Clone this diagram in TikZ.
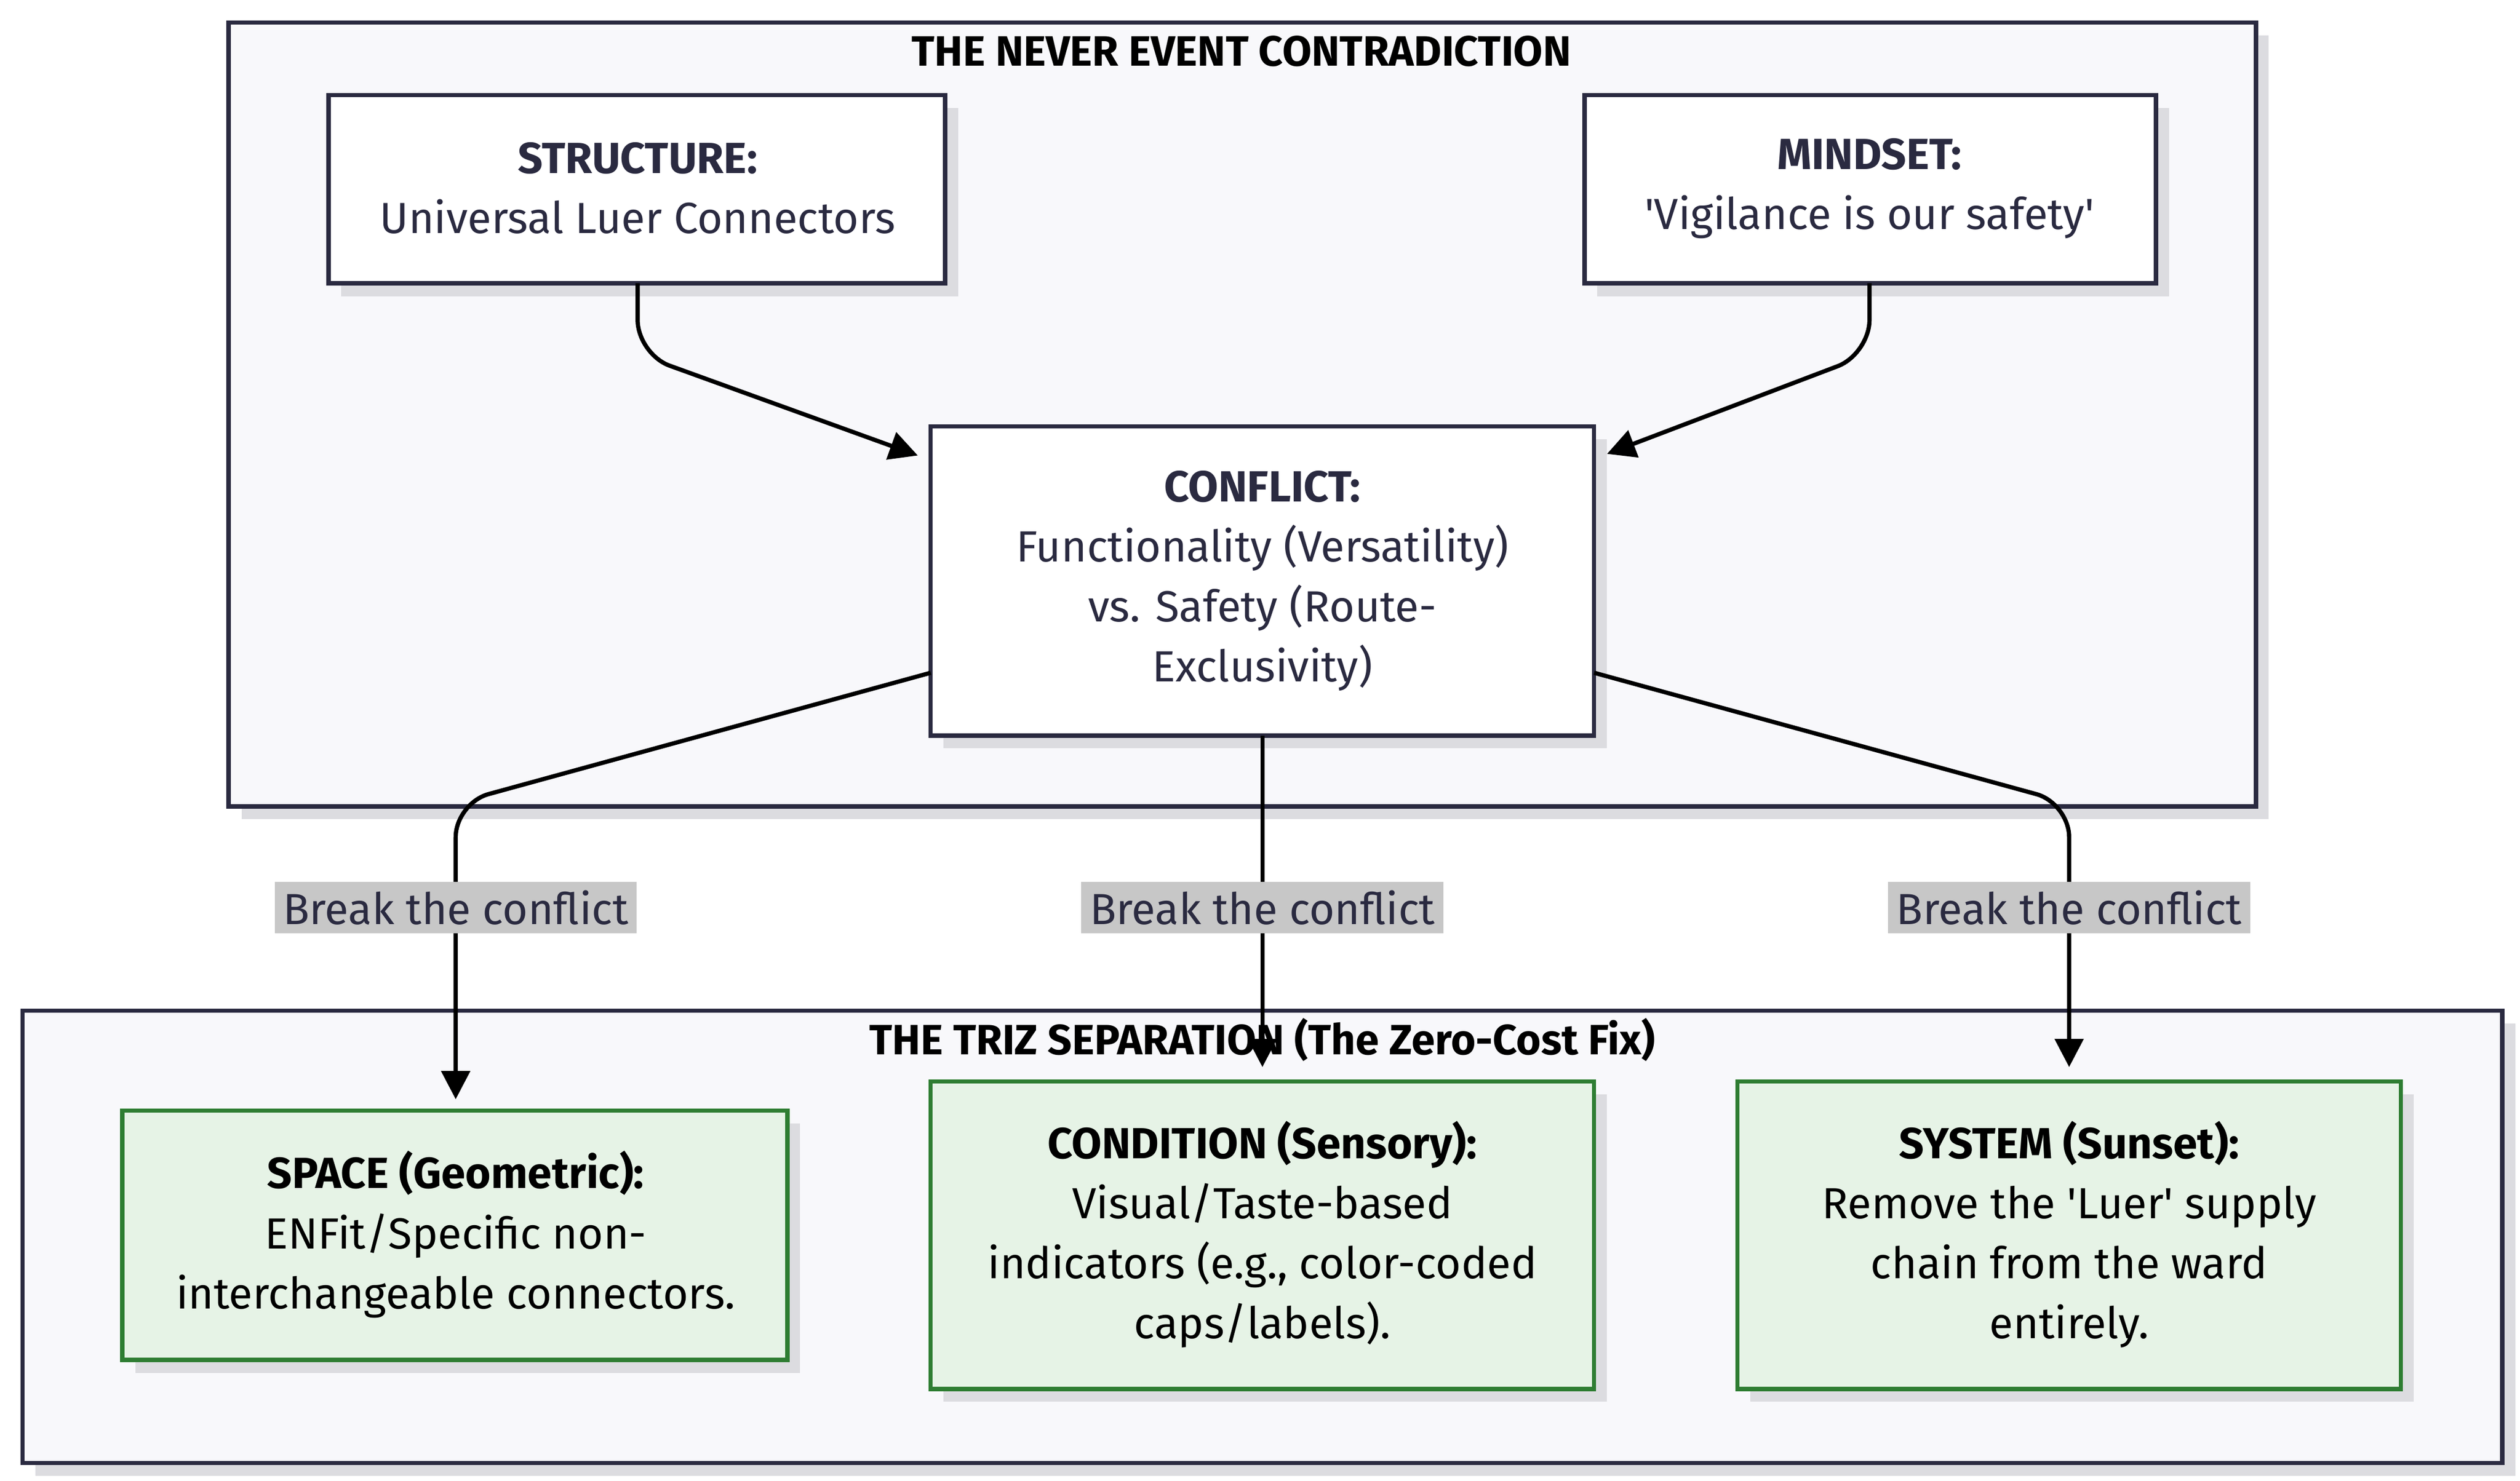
\documentclass[tikz,border=0pt]{standalone}
\usepackage{fontspec}
\setmainfont{Fira Sans}
\newfontfamily\plainq{Fira Sans}
\usetikzlibrary{arrows.meta}
\definecolor{cl}{HTML}{F8F8FB}
\definecolor{bd}{HTML}{2A2A40}
\definecolor{gf}{HTML}{E6F3E6}
\definecolor{gb}{HTML}{2E7D32}
\definecolor{sh}{HTML}{DCDCE0}
\newcommand{\sq}{{\plainq\char"27}}
\tikzset{x=0.01cm,y=-0.01cm,
 fnt/.style={font=\fontsize{7.7}{10.6}\selectfont},
 ttl/.style={font=\fontsize{7.5}{10}\selectfont\bfseries,text=black},
 arr/.style={line width=0.75pt,black,rounded corners=6,-{Triangle[length=5pt,width=5pt]}},
 lbl/.style={fnt,fill=black!22,text=bd,inner sep=1.5pt},
}
\newcommand{\bx}[6]{% name, x1,y1,x2,y2, style
 \fill[sh] (#2+8,#3+8) rectangle (#4+8,#5+8);
 \draw[#6,line width=0.75pt] (#2,#3) rectangle (#4,#5);
 \coordinate (#1) at ({(#2+#4)/2},{(#3+#5)/2});}
\begin{document}
\begin{tikzpicture}
\useasboundingbox[fill=white] (0,0) rectangle (1565,920);
\bx{c1}{142}{14}{1401}{501}{draw=bd,fill=cl}
\node[ttl] (t1) at (771,32) {THE NEVER EVENT CONTRADICTION};
\bx{c2}{14}{628}{1554}{909}{draw=bd,fill=cl}
\bx{s}{204}{59}{587}{176}{draw=bd,fill=white}
\bx{m}{984}{59}{1339}{176}{draw=bd,fill=white}
\bx{c}{578}{265}{990}{457}{draw=bd,fill=white}
\bx{sp}{76}{690}{489}{845}{draw=gb,fill=gf}
\bx{co}{578}{672}{990}{863}{draw=gb,fill=gf}
\bx{sy}{1079}{672}{1491}{863}{draw=gb,fill=gf}
\node[fnt,text=bd,align=center] (ts) at (396,117) {\textbf{STRUCTURE:}\\Universal Luer Connectors};
\node[fnt,text=bd,align=center] (tm) at (1161,117) {\textbf{MINDSET:}\\\sq Vigilance is our safety\sq};
\node[fnt,text=bd,align=center] (tc) at (784,361) {\textbf{CONFLICT:}\\Functionality (Versatility)\\vs. Safety (Route-\\Exclusivity)};
\node[fnt,text=black,align=center] (tsp) at (283,767) {\textbf{SPACE (Geometric):}\\ENFit/Specific non-\\interchangeable connectors.};
\node[fnt,text=black,align=center] (tco) at (784,767) {\textbf{CONDITION (Sensory):}\\Visual/Taste-based\\indicators (e.g., color-coded\\caps/labels).};
\node[fnt,text=black,align=center] (tsy) at (1285,767) {\textbf{SYSTEM (Sunset):}\\Remove the \sq Luer\sq{} supply\\chain from the ward\\entirely.};
\coordinate (s1) at (396,176); \coordinate (s2) at (570,283);
\coordinate (m1) at (1161,176); \coordinate (m2) at (998,282);
\draw[arr] (s1) -- (396,220) -- (s2);
\draw[arr] (m1) -- (1161,220) -- (m2);
\coordinate (cl) at (578,418); \coordinate (cr) at (990,418); \coordinate (cb) at (784,457);
\coordinate (e1) at (283,683); \coordinate (e2) at (784,663); \coordinate (e3) at (1285,663);
\draw[arr] (cl) -- (283,499) -- (e1);
\draw[arr] (cb) -- (e2);
\draw[arr] (cr) -- (1285,499) -- (e3);
\node[ttl] (t2) at (784,646) {THE TRIZ SEPARATION (The Zero-Cost Fix)};
\node[lbl] (l1) at (283,564) {Break the conflict};
\node[lbl] (l2) at (784,564) {Break the conflict};
\node[lbl] (l3) at (1285,564) {Break the conflict};
\end{tikzpicture}
\end{document}
